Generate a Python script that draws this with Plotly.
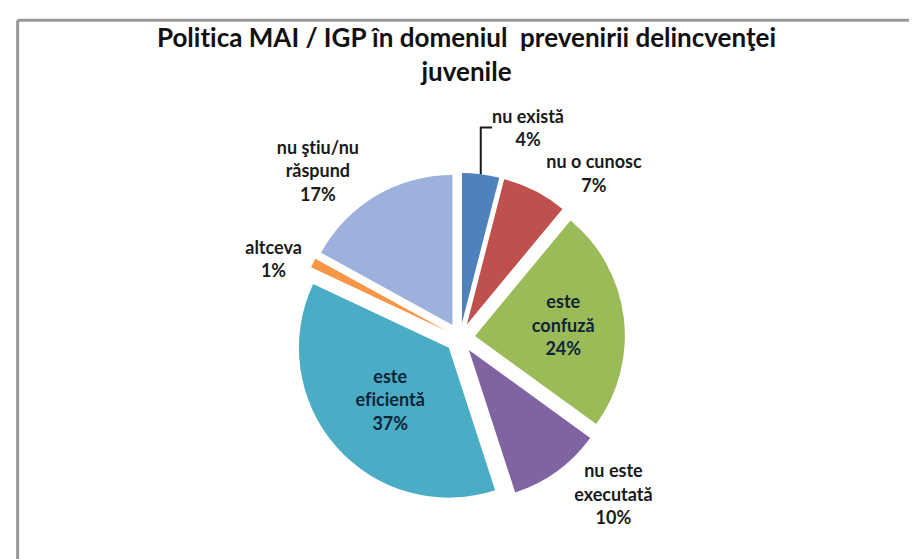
import plotly.graph_objects as go

# Politica MAI / IGP - slices clockwise from 12 o'clock
labels = ["nu există", "nu o cunosc", "este<br>confuză", "nu este<br>executată",
          "este<br>ef\u200cicientă", "altceva", "nu şt\u200ciu/nu<br>răspund"]
values = [4, 7, 24, 10, 37, 1, 17]
colors = ["#4F81BD", "#C0504D", "#9BBB59", "#8064A2", "#4BACC6", "#F79646", "#9DB1DC"]
positions = ["outside", "outside", "inside", "outside", "inside", "outside", "outside"]

fig = go.Figure()
fig.add_trace(go.Pie(
    labels=labels,
    values=values,
    sort=False,
    direction="clockwise",
    rotation=0,
    pull=[0.1] * len(values),
    marker=dict(colors=colors, line=dict(color="white", width=0)),
    texttemplate="<b>%{label}<br>%{percent:.0%}</b>",
    textposition=positions,
    insidetextorientation="horizontal",
    textfont=dict(family="Lato", size=18, color="#1a1a1a"),
    insidetextfont=dict(family="Lato", size=18, color="#0f2438"),
    domain=dict(x=[0.30, 0.686], y=[0.115, 0.705]),
    hoverinfo="label+percent",
))

fig.update_layout(
    title=dict(text="<b>Polit\u200cica MAI / IGP în domeniul  prevenirii delincvenţei<br>juvenile</b>",
               x=0.5, y=0.93, xanchor="center", yanchor="top",
               font=dict(family="Lato", size=26, color="#111111")),
    paper_bgcolor="white",
    plot_bgcolor="white",
    showlegend=False,
    width=917, height=559,
    margin=dict(l=0, r=0, t=0, b=0),
    # chart frame, cut off at right and bottom as in the screenshot
    shapes=[
        dict(type="line", xref="paper", yref="paper", x0=0.0105, y0=-0.05, x1=0.0105, y1=0.978,
             line=dict(color="#999999", width=3)),
        dict(type="line", xref="paper", yref="paper", x0=0.0105, y0=0.978, x1=1.05, y1=0.978,
             line=dict(color="#999999", width=3)),
    ],
)

fig.write_html("out.html")
